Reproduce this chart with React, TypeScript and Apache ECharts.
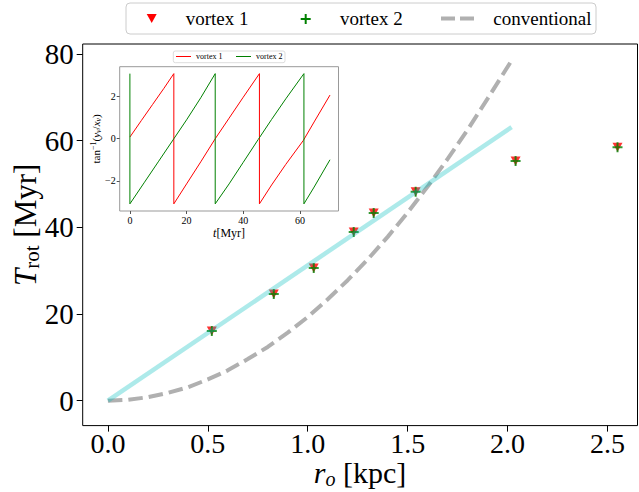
import React, { useEffect, useRef } from "react";
import * as echarts from "echarts";

// ---- main panel data ----
const radiusKpc = [0.52, 0.83, 1.03, 1.23, 1.33, 1.54, 2.04, 2.55];
const vortex1Period = [16.1, 24.6, 30.6, 38.9, 43.3, 48.2, 55.3, 58.5];
const vortex2Period = [16.1, 24.6, 30.6, 38.9, 43.3, 48.2, 55.3, 58.5];
const fitRadius = [0, 2.02];
const fitPeriod = [0, 63.1];
const convRadius = [0, 0.1, 0.2, 0.3, 0.4, 0.5, 0.6, 0.7, 0.8, 0.9, 1.0, 1.1, 1.2, 1.3, 1.4, 1.5, 1.6, 1.7, 1.8, 1.9, 2.02];
const convPeriod = [0, 0.2, 0.8, 1.8, 3.1, 4.9, 7.0, 9.6, 12.4, 15.7, 19.3, 23.4, 27.8, 32.6, 37.8, 43.4, 49.4, 55.8, 62.5, 69.7, 78.5];
const xTicks = [0, 0.5, 1.0, 1.5, 2.0, 2.5];
const yTicks = [0, 20, 40, 60, 80];

// ---- inset data ----
const v1Time = [0, 4, 8, 12, 15.5, 15.5, 20, 25, 30.1, 35, 40, 45.7, 45.7, 50, 55, 61.2, 65, 70.6];
const v1Angle = [0.08, 0.86, 1.63, 2.4, 3.1, -3.1, -2.15, -1.1, 0.0, 0.98, 1.98, 3.1, -3.1, -2.2, -1.22, -0.08, 0.8, 2.08];
const v2Time = [0, 0, 5, 10, 15.5, 20, 25, 30.1, 30.1, 35, 40, 45.3, 50, 55, 61.4, 61.4, 65, 70.6];
const v2Angle = [3.1, -3.1, -2.1, -1.1, 0.0, 0.9, 1.95, 3.1, -3.1, -2.15, -1.12, -0.03, 0.92, 1.9, 3.1, -3.1, -2.3, -1.0];
const insetXTicks = [0, 20, 40, 60];
const insetYTicks = [-2, 0, 2];

const FONT = "Liberation Serif";
const zip = (a: number[], b: number[]) => a.map((v, i) => [v, b[i]]);

export default function App() {
  const ref = useRef<HTMLDivElement>(null);
  useEffect(() => {
    if (!ref.current) return;
    const chart = echarts.init(ref.current, undefined, { renderer: "svg" });
    const tickLabel = { fontFamily: FONT, fontSize: 29, color: "#000" };
    const insetLabel = { fontFamily: FONT, fontSize: 10, color: "#000" };
    const noLine = { show: false, onZero: false };
    chart.setOption({
      animation: false,
      backgroundColor: "#fff",
      grid: [
        { left: 82.7, top: 44, right: 1.5, bottom: 66.4, show: true, borderColor: "#000", borderWidth: 1, backgroundColor: "transparent", containLabel: false, outerBoundsMode: "none" },
        { left: 119.7, top: 66.7, right: 300.5, bottom: 281, show: true, borderColor: "#999", borderWidth: 1, backgroundColor: "#fff", z: 5, containLabel: false, outerBoundsMode: "none" },
      ],
      xAxis: [
        {
          type: "value", gridIndex: 0, min: -0.126, max: 2.65, position: "bottom",
          axisLine: noLine, splitLine: { show: false },
          axisTick: { show: true, inside: false, length: 6, customValues: xTicks, lineStyle: { color: "#000" } },
          axisLabel: { ...tickLabel, fontSize: 28, margin: 4, customValues: xTicks, formatter: (v: number) => v.toFixed(1) },
          name: "{i|r}{sub|o} [kpc]", nameLocation: "middle", nameGap: 30, nameMoveOverlap: false,
          nameTextStyle: {
            fontFamily: FONT, fontSize: 30, color: "#000",
            rich: {
              i: { fontFamily: FONT, fontSize: 30, fontStyle: "italic" },
              sub: { fontFamily: FONT, fontSize: 20, fontStyle: "italic", verticalAlign: "bottom", padding: [13, 0, 0, 0] },
            },
          },
        },
        {
          type: "value", gridIndex: 1, min: -3.6, max: 73.6, z: 6, position: "bottom",
          axisLine: noLine, splitLine: { show: false },
          axisTick: { show: true, inside: false, length: 3, customValues: insetXTicks, lineStyle: { color: "#555" } },
          axisLabel: { ...insetLabel, margin: 4, customValues: insetXTicks },
          name: "{i|t}[Myr]", nameLocation: "middle", nameGap: 16, nameMoveOverlap: false,
          nameTextStyle: { fontFamily: FONT, fontSize: 12, color: "#000", rich: { i: { fontFamily: FONT, fontSize: 12, fontStyle: "italic" } } },
        },
      ],
      yAxis: [
        {
          type: "value", gridIndex: 0, min: -5.75, max: 82.3, position: "left",
          axisLine: noLine, splitLine: { show: false },
          axisTick: { show: true, inside: false, length: 6, customValues: yTicks, lineStyle: { color: "#000" } },
          axisLabel: { ...tickLabel, margin: 9, customValues: yTicks },
          name: "{i|T}{sub|rot} [Myr]", nameLocation: "middle", nameGap: 40, nameMoveOverlap: false,
          nameTextStyle: {
            fontFamily: FONT, fontSize: 31, color: "#000", padding: [0, 0, 0, 20],
            rich: {
              i: { fontFamily: FONT, fontSize: 31, fontStyle: "italic" },
              sub: { fontFamily: FONT, fontSize: 21, verticalAlign: "bottom", padding: [14, 0, 0, 0] },
            },
          },
        },
        {
          type: "value", gridIndex: 1, min: -3.44, max: 3.43, z: 6, position: "left",
          axisLine: noLine, splitLine: { show: false },
          axisTick: { show: true, inside: false, length: 3, customValues: insetYTicks, lineStyle: { color: "#555" } },
          axisLabel: { ...insetLabel, margin: 4, customValues: insetYTicks, formatter: (v: number) => (v < 0 ? "\u2212" + Math.abs(v) : String(v)) },
          name: "tan{sup|\u22121}({i|y}{sub|v}/{i|x}{sub|v})", nameLocation: "middle", nameGap: 17, nameMoveOverlap: false,
          nameTextStyle: {
            fontFamily: FONT, fontSize: 11, color: "#000",
            rich: {
              i: { fontFamily: FONT, fontSize: 11, fontStyle: "italic" },
              sub: { fontFamily: FONT, fontSize: 8, fontStyle: "italic", verticalAlign: "bottom", padding: [5, 0, 0, 0] },
              sup: { fontFamily: FONT, fontSize: 8, verticalAlign: "top", padding: [0, 0, 5, 0] },
            },
          },
        },
      ],
      series: [
        {
          name: "conventional", type: "line", xAxisIndex: 0, yAxisIndex: 0,
          data: zip(convRadius, convPeriod), showSymbol: false, symbol: "none",
          lineStyle: { color: "#b0b0b0", width: 4, type: [14.5, 6] },
        },
        {
          name: "fit", type: "line", xAxisIndex: 0, yAxisIndex: 0,
          data: zip(fitRadius, fitPeriod), showSymbol: false, symbol: "none",
          lineStyle: { color: "rgba(0,191,191,0.32)", width: 4.5 },
        },
        {
          name: "vortex 1", type: "scatter", xAxisIndex: 0, yAxisIndex: 0,
          data: zip(radiusKpc, vortex1Period),
          symbol: "path://M0,0 L10,0 L5,9 Z", symbolSize: [10, 9], symbolKeepAspect: false,
          itemStyle: { color: "#ff0000" },
        },
        {
          name: "vortex 2", type: "scatter", xAxisIndex: 0, yAxisIndex: 0,
          data: zip(radiusKpc, vortex2Period),
          symbol: "path://M4,0 L6,0 L6,4 L10,4 L10,6 L6,6 L6,10 L4,10 L4,6 L0,6 L0,4 L4,4 Z", symbolSize: 10,
          itemStyle: { color: "#008000" },
        },
        {
          name: "inset vortex 1", type: "line", xAxisIndex: 1, yAxisIndex: 1, z: 7,
          data: zip(v1Time, v1Angle), showSymbol: false, symbol: "none",
          lineStyle: { color: "#ff0000", width: 1 },
        },
        {
          name: "inset vortex 2", type: "line", xAxisIndex: 1, yAxisIndex: 1, z: 7,
          data: zip(v2Time, v2Angle), showSymbol: false, symbol: "none",
          lineStyle: { color: "#008000", width: 1 },
        },
      ],
      graphic: [
        // main legend
        { type: "rect", shape: { x: 126, y: 3, width: 470, height: 31, r: 4 }, style: { fill: "#fff", stroke: "#cccccc", lineWidth: 1 }, z: 10 },
        { type: "polygon", shape: { points: [[146.7, 14], [156.7, 14], [151.7, 23]] }, style: { fill: "#ff0000" }, z: 11 },
        { type: "text", x: 185.7, y: 18.5, style: { text: "vortex 1", font: `19px '${FONT}'`, fill: "#000", verticalAlign: "middle" }, z: 11 },
        { type: "rect", shape: { x: 300.7, y: 18, width: 10, height: 2 }, style: { fill: "#008000" }, z: 11 },
        { type: "rect", shape: { x: 304.7, y: 14, width: 2, height: 10 }, style: { fill: "#008000" }, z: 11 },
        { type: "text", x: 340, y: 18.5, style: { text: "vortex 2", font: `19px '${FONT}'`, fill: "#000", verticalAlign: "middle" }, z: 11 },
        { type: "line", shape: { x1: 441, y1: 18.5, x2: 474, y2: 18.5 }, style: { stroke: "#b0b0b0", lineWidth: 4, lineDash: [14, 5] }, z: 11 },
        { type: "text", x: 493.3, y: 18.5, style: { text: "conventional", font: `19px '${FONT}'`, fill: "#000", verticalAlign: "middle" }, z: 11 },
        // inset legend
        { type: "rect", shape: { x: 173.3, y: 51, width: 111.7, height: 11.7, r: 2 }, style: { fill: "#fff", stroke: "#dddddd", lineWidth: 1 }, z: 10 },
        { type: "line", shape: { x1: 176, y1: 56.5, x2: 191, y2: 56.5 }, style: { stroke: "#ff0000", lineWidth: 1 }, z: 11 },
        { type: "text", x: 196, y: 56.5, style: { text: "vortex 1", font: `8px '${FONT}'`, fill: "#000", verticalAlign: "middle" }, z: 11 },
        { type: "line", shape: { x1: 236, y1: 56.5, x2: 251, y2: 56.5 }, style: { stroke: "#008000", lineWidth: 1 }, z: 11 },
        { type: "text", x: 256, y: 56.5, style: { text: "vortex 2", font: `8px '${FONT}'`, fill: "#000", verticalAlign: "middle" }, z: 11 },
      ],
    });
    return () => chart.dispose();
  }, []);
  return <div ref={ref} style={{ width: 639, height: 492, position: "absolute", left: 0, top: 0 }} />;
}
